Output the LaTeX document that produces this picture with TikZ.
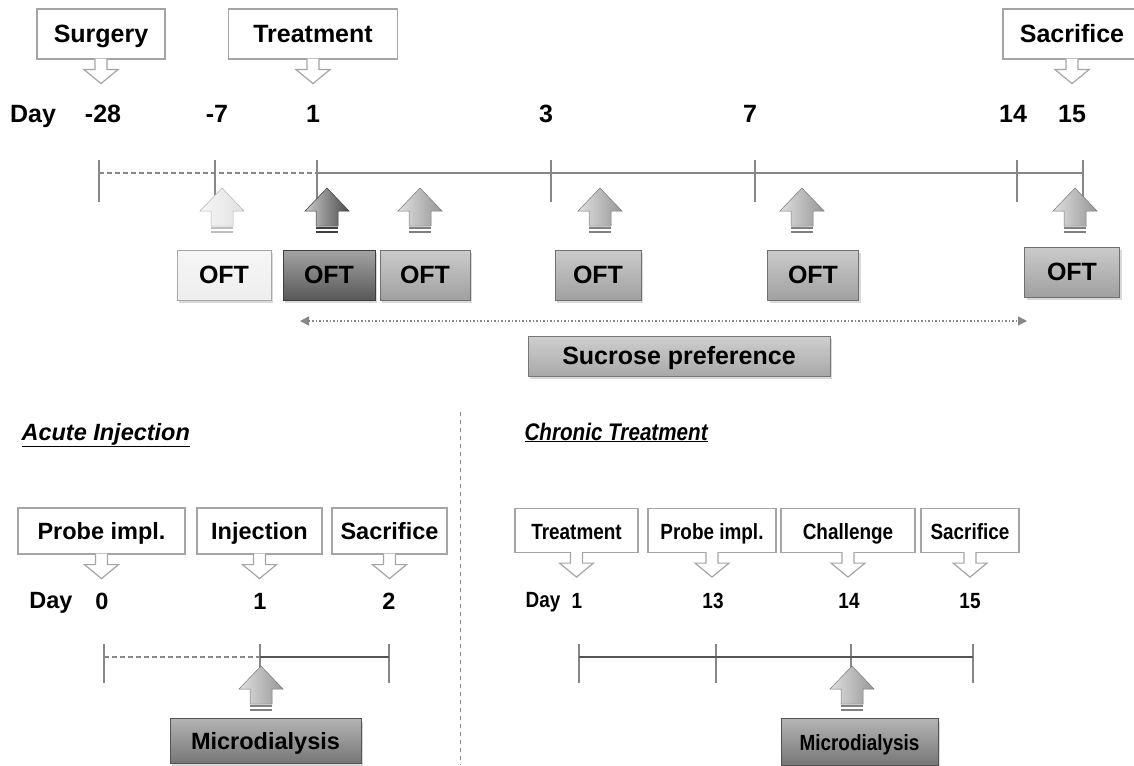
\documentclass[tikz,border=0pt]{standalone}
\usepackage{fontspec}
\setmainfont{Liberation Sans}
\newfontfamily\narrowfont{Liberation Sans}[FakeStretch=0.86]
\usepackage{tikz}
\usetikzlibrary{arrows.meta,positioning,shadows,calc}
\definecolor{boxline}{RGB}{165,165,165}
\definecolor{axisgray}{RGB}{135,135,135}
\definecolor{axisdark}{RGB}{85,85,85}
\definecolor{oftwhite}{RGB}{238,238,238}
\definecolor{oftdark}{RGB}{88,88,88}
\definecolor{oftgray}{RGB}{160,160,160}
\definecolor{sucgray}{RGB}{168,168,168}
\definecolor{microgray}{RGB}{118,118,118}
\definecolor{arrwhite}{RGB}{225,225,225}
\definecolor{arrdark}{RGB}{75,75,75}
\definecolor{arrgray}{RGB}{150,150,150}

% outline arrow hanging under a callout box
\newcommand{\dropmark}[1]{%
  \path[draw=boxline, fill=white, line width=1.2pt, line join=miter]
    ($(#1.south)+(-6,-1)$) -- ++(0,11) -- ++(-11,0) -- ++(17,14)
    -- ++(17,-14) -- ++(-11,0) -- ++(0,-11);}
% shaded up arrow: x, top y, colour
\newcommand{\upmark}[3]{%
  \path[left color=#3!30!white, right color=#3, draw=#3!80!black, line width=0.5pt]
    (#1,#2) -- ++(22,23) -- ++(-11,0) -- ++(0,15) -- ++(-22,0) -- ++(0,-15)
    -- ++(-11,0) -- cycle;
  \draw[#3!85!black, line width=2pt] (#1-11,#2+40) -- ++(22,0) (#1-11,#2+44) -- ++(22,0);}

\begin{document}
\begin{tikzpicture}[x=1pt, y=-1pt,
  every node/.style={font=\fontsize{25}{29}\selectfont\bfseries},
  callout/.style={draw=boxline, line width=1.2pt, fill=white, inner sep=0pt,
                  text height=17pt, text depth=0pt},
  oftbox/.style={draw=#1!70!black, line width=0.6pt, top color=#1!55!white,
                 bottom color=#1, inner sep=0pt, minimum height=50,
                 text height=17pt, text depth=0pt,
                 drop shadow={shadow xshift=2pt, shadow yshift=-3pt, opacity=0.3}},
  axis/.style={axisgray, line width=1.3pt},
  baxis/.style={axisdark, line width=1.5pt},
  dashaxis/.style={axisgray, line width=1.2pt, dash pattern=on 5pt off 3pt},
  small/.style={font=\fontsize{23.5}{27}\selectfont\bfseries},
  narrow/.style={font=\fontsize{22}{26}\selectfont\narrowfont\bfseries}
]
\useasboundingbox (0,0) rectangle (1134,765);

% ---- top timeline
\foreach \n/\x/\w/\t in {surg/101/128/Surgery, treat/313/169/Treatment, sacr/1072/138/Sacrifice}
  \node[callout, minimum width=\w, minimum height=50] (\n) at (\x,34) {\t};
\foreach \n in {surg, treat, sacr}
  {\dropmark{\n}}

\node[anchor=base] (day) at (33,122) {Day};
\foreach \n/\x/\t in {m28/103/-28, m7/217/-7, d1/313/1, d3/546/3, d7/750/7, d14/1013/14, d15/1072/15}
  \node[anchor=base] (lab\n) at (\x,122) {\t};

\foreach \n/\x in {m28/99, m7/215, d1/317, d3/551, d7/755, d14/1017, d15/1083} {
  \coordinate (t\n) at (\x,173);
  \draw[axis] ($(t\n)+(0,-13)$) -- ++(0,42);
}
\draw[dashaxis] (tm28) -- (td1);
\draw[axis] (td1) -- (td15);

\upmark{222}{188}{arrwhite}
\upmark{327}{188}{arrdark}
\foreach \x in {420, 600, 802, 1075}
  {\upmark{\x}{188}{arrgray}}

\node[oftbox=oftwhite, minimum width=94] (oft1) at (224,275) {OFT};
\node[oftbox=oftdark, minimum width=92] (oft2) at (329,275) {OFT};
\node[oftbox=oftgray, minimum width=90] (oft3) at (425,275) {OFT};
\node[oftbox=oftgray, minimum width=86] (oft4) at (598,275) {OFT};
\node[oftbox=oftgray, minimum width=91] (oft5) at (813,275) {OFT};
\node[oftbox=oftgray, minimum width=95] (oft6) at (1072,272) {OFT};

\coordinate (sp-l) at (300,321);
\coordinate (sp-r) at (1027,321);
\draw[axisgray, line width=1.5pt, dotted, {Triangle[length=9pt,width=9pt]}-{Triangle[length=9pt,width=9pt]}] (sp-l) -- (sp-r);
\node[oftbox=sucgray, minimum width=302, minimum height=40] (sucr) at (679,356) {Sucrose preference};

% ---- divider
\coordinate (divtop) at (460,412);
\coordinate (divbot) at (460,765);
\draw[axisgray, line width=1pt, dash pattern=on 4pt off 4pt] (divtop) -- (divbot);

% ---- acute injection
\node[anchor=base west, font=\fontsize{23.5}{27}\selectfont\bfseries\itshape] (acute) at (18,440) {\underline{Acute Injection}};
\foreach \n/\x/\w/\t in {probeA/101.5/167/{Probe impl.}, injA/259.5/125/Injection, sacrA/389.5/115/Sacrifice}
  \node[callout, small, minimum width=\w, minimum height=46] (\n) at (\x,531) {\t};
\foreach \n in {probeA, injA, sacrA}
  {\dropmark{\n}}
\node[small, anchor=base] (dayA) at (51,608) {Day};
\foreach \n/\x/\t in {a0/102/0, a1/260/1, a2/389/2}
  \node[small, anchor=base] (lab\n) at (\x,609) {\t};
\foreach \n/\x in {a0/104, a1/260, a2/389} {
  \coordinate (t\n) at (\x,657);
  \draw[axisgray, line width=1.3pt] ($(t\n)+(0,-13)$) -- ++(0,39);
}
\draw[dashaxis] (ta0) -- (ta1);
\draw[baxis] (ta1) -- (ta2);
\upmark{261}{666}{arrgray}
\node[oftbox=microgray, small, minimum width=191, minimum height=45] (microA) at (265.5,741) {Microdialysis};

% ---- chronic treatment
\node[anchor=base west, font=\fontsize{24}{28}\selectfont\narrowfont\bfseries\itshape] (chron) at (521,440) {\underline{Chronic Treatment}};
\foreach \n/\x/\w/\t in {treatB/576.5/123/Treatment, probeB/712/128/{Probe impl.}, challB/848/134/Challenge, sacrB/970/98/Sacrifice}
  \node[callout, narrow, minimum width=\w, minimum height=44] (\n) at (\x,530.5) {\t};
\foreach \n in {treatB, probeB, challB, sacrB}
  {\dropmark{\n}}
\node[narrow, anchor=base] (dayB) at (543,607) {Day};
\foreach \n/\x/\t in {b1/577/1, b13/713/13, b14/849/14, b15/970/15}
  \node[narrow, anchor=base] (lab\n) at (\x,608) {\t};
\foreach \n/\x in {b1/579, b13/716, b14/851, b15/973} {
  \coordinate (t\n) at (\x,657);
  \draw[axisgray, line width=1.3pt] ($(t\n)+(0,-13)$) -- ++(0,39);
}
\draw[baxis] (tb1) -- (tb15);
\upmark{852}{666}{arrgray}
\node[oftbox=microgray, narrow, minimum width=157, minimum height=47] (microB) at (859.5,742) {Microdialysis};
\end{tikzpicture}
\end{document}
